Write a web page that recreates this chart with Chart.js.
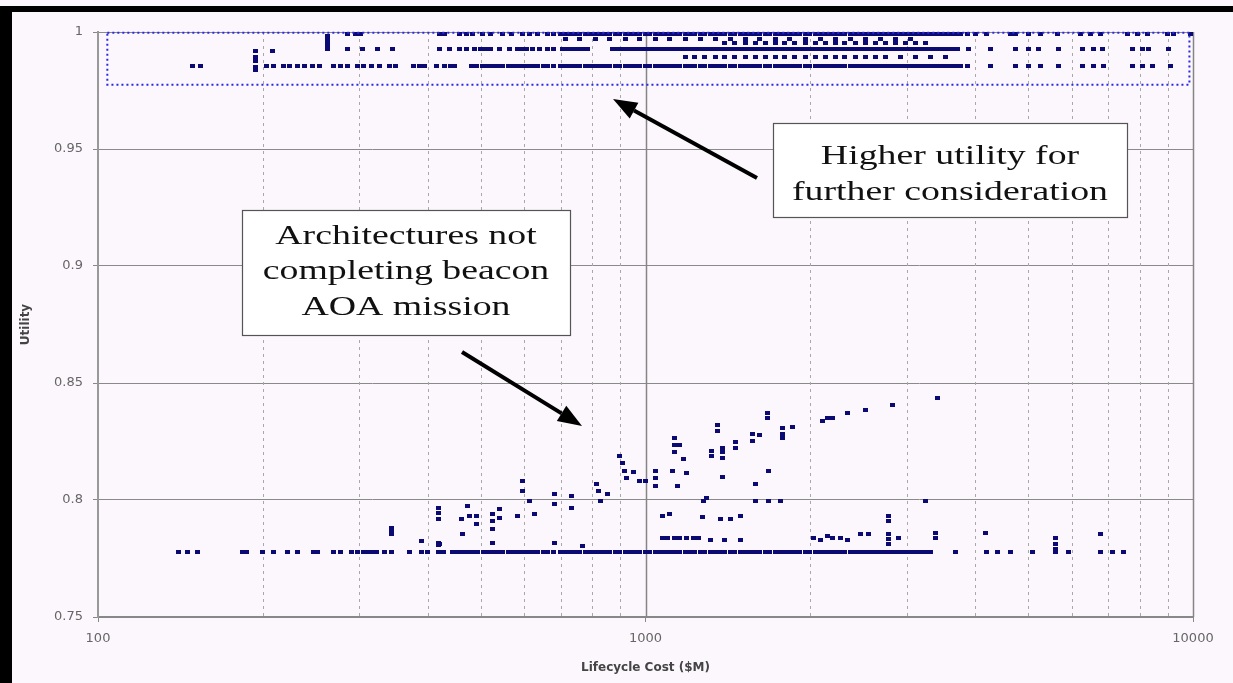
<!DOCTYPE html>
<html><head><meta charset="utf-8">
<script src="https://cdn.jsdelivr.net/npm/chart.js"></script>
<style>html,body{margin:0;padding:0;background:#fcf7fc;overflow:hidden}</style>
</head><body>
<canvas id="c" width="1233" height="683"></canvas>
<script>
// ---------- axis ticks ----------
const xGridValues = [100,200,300,400,500,600,700,800,900,1000,2000,3000,4000,5000,6000,7000,8000,9000,10000];
const xTickLabels = ['100','1000','10000'];
const yTicks = [0.75,0.8,0.85,0.9,0.95,1];

// ---------- top cluster (utility ~0.98-1.0), cost in $M ----------
const topA_util = 0.9991;
const topA_cost = [285,295,301,421,430,458,471,484,503,520,549,570,597,615,636,662,678,698,713,728,744,759,776,792,809,826,844,861,880,898,918,937,957,977,998,1019,1041,1062,1085,1108,1132,1156,1181,1206,1231,1258,1284,1312,1340,1368,1397,1427,1457,1488,1520,1552,1585,1618,1653,1688,1724,1761,1798,1836,1875,1915,1956,1997,2040,2084,2128,2173,2219,2266,2314,2364,2414,2466,2518,2572,2626,2682,2739,2797,2857,2917,2979,3043,3107,3173,3241,3310,3380,3452,3525,3600,3677,3755,3870,4000,4198,4636,4735,5000,5258,5650,6222,6490,6768,7580,7905,8246,8970,9200,9880];
const topB_util = 0.9972;
const topB_cost = [713,759,809,861,918,977,1041,1108,1181,1258,1340,1427,1520,1618,1724,1836,1956,2084,2219,2364,2518,2682,2857,3043];
const topC_util = 0.9955;
const topC_cost = [1397,1457,1520,1585,1653,1724,1798,1875,1956,2040,2128,2219,2314,2414,2518,2626,2739,2857,2979,3107,3241];
const topD_util = 0.9926;
const topD_cost = [262,285,304,324,345,420,438,458,471,488,499,510,520,542,565,583,597,607,623,640,662,678,705,720,736,751,767,784,870,889,908,927,947,967,987,1008,1030,1051,1073,1096,1120,1144,1168,1193,1218,1244,1271,1298,1326,1354,1382,1412,1442,1472,1504,1536,1568,1601,1635,1670,1706,1742,1779,1817,1855,1895,1935,1976,2018,2062,2106,2150,2196,2242,2290,2339,2389,2440,2492,2545,2599,2654,2710,2768,2827,2887,2948,3011,3075,3140,3207,3275,3345,3416,3488,3562,3638,3716,3887,4260,4735,5000,5214,5674,6275,6573,6826,7740,8074,8281,9008];
const topE_util = 0.9893;
const topE_cost = [1181,1231,1284,1340,1397,1457,1520,1585,1653,1724,1798,1875,1956,2040,2128,2219,2314,2414,2518,2626,2739,2917,3107,3310,3525];
const topG_util = 0.9855;
const topG_cost = [149,154,203,209,218,224,231,238,246,254,269,277,285,298,305,316,327,341,349,377,387,395,416,430,440,448,481,492,503,514,525,536,549,561,573,585,597,610,623,636,650,663,678,698,713,728,744,759,776,792,809,826,844,861,880,898,918,937,957,977,998,1019,1041,1062,1085,1108,1132,1156,1181,1206,1231,1258,1284,1312,1340,1368,1397,1427,1457,1488,1520,1552,1585,1618,1653,1688,1724,1761,1798,1836,1875,1915,1956,1997,2040,2084,2128,2173,2219,2266,2314,2364,2414,2466,2518,2572,2626,2682,2739,2797,2857,2917,2979,3043,3107,3173,3241,3310,3380,3452,3525,3600,3677,3755,3870,4260,4735,5000,5258,5674,6275,6573,6855,7740,8074,8423,9087];
const topStacks = [[194,0.9917],[194,0.9895],[194,0.9874],[194,0.9852],[194,0.9839],[208,0.9917],
  [262,0.9981],[262,0.9968],[262,0.9955],[262,0.9942],[285,0.9990]];

// ---------- lower cluster (architectures not completing beacon AOA mission) ----------
const base_util = 0.7778;
const base_cost = [140,146,152,184,187,200,209,222,231,247,252,269,277,291,298,305,309,314,318,323,334,344,371,390,400,418,428,444,454,464,474,484,494,505,516,527,538,549,561,573,585,597,610,623,636,650,663,678,698,713,728,744,759,776,792,809,826,844,861,880,898,918,937,957,977,998,1019,1041,1062,1085,1108,1132,1156,1181,1206,1231,1258,1284,1312,1340,1368,1397,1427,1457,1488,1520,1552,1585,1618,1653,1688,1724,1761,1798,1836,1875,1915,1956,1997,2040,2084,2128,2173,2219,2266,2314,2364,2414,2466,2518,2572,2626,2682,2739,2797,2857,2917,2979,3043,3107,3173,3241,3310,3677,4198,4400,4636,5084,5603,5917,6768,7120,7455];
const lowScatter = [[1075,0.7838],[1097,0.7838],[1132,0.7838],[1156,0.7838],[1190,0.7838],[1222,0.7838],[1251,0.7838],[1312,0.7830],[1397,0.7830],[1488,0.7830],[2023,0.7838],[2084,0.7830],[2146,0.7847],[2200,0.7838],[2266,0.7838],[2334,0.7830],[2466,0.7856],[2550,0.7856],[2775,0.7856],[2775,0.7835],[2775,0.7813],[2893,0.7838],[3380,0.7860],[3380,0.7838],[4172,0.7860],[5603,0.7838],[5603,0.7813],[5603,0.7791],[6768,0.7856],
  [418,0.7818],[418,0.7808],[390,0.7826],[421,0.7813],[344,0.7881],[344,0.7868],[344,0.7856],[418,0.7967],[418,0.7946],[418,0.7920],[464,0.7856],[462,0.7920],[474,0.7976],[477,0.7933],[491,0.7933],[491,0.7899],[525,0.7941],[525,0.7911],[525,0.7877],[525,0.7817],[542,0.7963],[542,0.7924],[583,0.7933],[628,0.7941],[615,0.7997],[597,0.8083],[597,0.8040],[683,0.7817],[683,0.8027],[683,0.7984],[732,0.8019],[732,0.7967],[766,0.7804],[815,0.8070],[851,0.8027]];
const risingBand = [[1041,0.8126],[1041,0.8096],[1041,0.8061],[998,0.8083],[1120,0.8126],[1132,0.8267],[1132,0.8233],[1132,0.8203],[1156,0.8233],[1172,0.8177],[1190,0.8117],[1146,0.8061],[1075,0.7933],[1108,0.7941],[1270,0.7929],[1368,0.7920],[1427,0.7920],[1488,0.7933],[1277,0.7997],[1292,0.8010],[1318,0.8211],[1318,0.8190],[1352,0.8319],[1352,0.8297],[1380,0.8224],[1380,0.8203],[1380,0.8181],[1380,0.8100],[1460,0.8246],[1460,0.8224],[1568,0.8284],[1568,0.8254],[1618,0.8276],[1585,0.8070],[1585,0.7997],[1675,0.7997],[1768,0.7997],[1668,0.8370],[1668,0.8349],[1675,0.8126],[1780,0.8306],[1780,0.8284],[1780,0.8267],[1856,0.8310],[2106,0.8336],[2150,0.8349],[2200,0.8349],[2339,0.8370],[2518,0.8383],[2827,0.8404],[3416,0.8438],[3240,0.7997],[2775,0.7933],[2775,0.7911],
  [820,0.8040],[826,0.7997],[898,0.8190],[907,0.8160],[916,0.8126],[925,0.8092],[951,0.8118],[977,0.8083]];

// ---------- highlight region ----------
const highlightBox = {xMin:104, xMax:9850, yMin:0.9775, yMax:0.9997};

// ---------- build dataset ----------
const pts = [];
function addRow(costs, u){ costs.forEach(c => pts.push({x:c, y:u})); }
function addPairs(pairs){ pairs.forEach(p => pts.push({x:p[0], y:p[1]})); }
addRow(topA_cost, topA_util); addRow(topB_cost, topB_util); addRow(topC_cost, topC_util);
addRow(topD_cost, topD_util); addRow(topE_cost, topE_util); addRow(topG_cost, topG_util);
addPairs(topStacks);
addRow(base_cost, base_util); addPairs(lowScatter); addPairs(risingBand);

// wide marker (the original markers look horizontally stretched)
const marker = document.createElement('canvas');
marker.width = 5; marker.height = 4;
(function(){ const m = marker.getContext('2d'); m.fillStyle = '#0a0a72'; m.fillRect(0,0,5,4); })();

const bgPlugin = {
  id:'bg',
  beforeDraw(c){
    const ctx = c.ctx; ctx.save();
    ctx.fillStyle = '#fcf7fc'; ctx.fillRect(0,0,c.width,c.height);
    ctx.fillStyle = '#000'; ctx.fillRect(0,6,c.width,6); ctx.fillRect(0,6,12,c.height-6);
    ctx.restore();
  },
  beforeDatasetsDraw(c){
    const ctx = c.ctx, xs = c.scales.x, a = c.chartArea;
    ctx.save();
    xGridValues.forEach(v => {
      if (v === 100) return;
      const px = Math.round(xs.getPixelForValue(v)) + 0.5;
      const major = (v === 1000 || v === 10000);
      ctx.beginPath();
      ctx.strokeStyle = major ? '#858585' : '#a8a8a8';
      ctx.lineWidth = major ? 1.5 : 1;
      ctx.setLineDash(major ? [] : [3,4]);
      ctx.moveTo(px, a.top); ctx.lineTo(px, a.bottom); ctx.stroke();
    });
    ctx.restore();
  }
};

function sText(ctx, t, cx, cy, sx){ ctx.save(); ctx.translate(cx,cy); ctx.scale(sx,1); ctx.fillText(t,0,0); ctx.restore(); }
function arrow(ctx, x1,y1,x2,y2){
  const ang = Math.atan2(y2-y1, x2-x1), hl = 24, hw = 9;
  const bx = x2 - hl*Math.cos(ang), by = y2 - hl*Math.sin(ang);
  ctx.beginPath(); ctx.lineWidth = 4; ctx.strokeStyle = '#000';
  ctx.moveTo(x1,y1); ctx.lineTo(bx,by); ctx.stroke();
  ctx.beginPath(); ctx.fillStyle = '#000';
  ctx.moveTo(x2,y2);
  ctx.lineTo(bx + hw*Math.sin(ang), by - hw*Math.cos(ang));
  ctx.lineTo(bx - hw*Math.sin(ang), by + hw*Math.cos(ang));
  ctx.closePath(); ctx.fill();
}

const notePlugin = {
  id:'notes',
  afterDatasetsDraw(c){
    const ctx = c.ctx, xs = c.scales.x, ys = c.scales.y;
    ctx.save();
    const l = xs.getPixelForValue(highlightBox.xMin), r = xs.getPixelForValue(highlightBox.xMax);
    const t = ys.getPixelForValue(highlightBox.yMax), b = ys.getPixelForValue(highlightBox.yMin);
    ctx.strokeStyle = '#2a2ae6'; ctx.lineWidth = 2; ctx.setLineDash([2,3]);
    ctx.strokeRect(l, t, r-l, b-t);
    ctx.setLineDash([]);
    ctx.fillStyle = '#ffffff'; ctx.strokeStyle = '#555'; ctx.lineWidth = 1.2;
    ctx.fillRect(773.5,123.5,354,94); ctx.strokeRect(773.5,123.5,354,94);
    ctx.fillRect(242.5,210.5,328,125); ctx.strokeRect(242.5,210.5,328,125);
    ctx.fillStyle = '#111'; ctx.textAlign = 'center'; ctx.textBaseline = 'middle';
    ctx.font = '28px "Liberation Serif", "Times New Roman", serif';
    sText(ctx, 'Higher utility for', 950, 157, 1.35);
    sText(ctx, 'further consideration', 950, 193, 1.35);
    sText(ctx, 'Architectures not', 406, 237, 1.35);
    sText(ctx, 'completing beacon', 406, 272, 1.35);
    sText(ctx, 'AOA mission', 406, 308, 1.35);
    arrow(ctx, 757,178, 613,99);
    arrow(ctx, 462,352, 582,426);
    ctx.restore();
  }
};

new Chart(document.getElementById('c'), {
  type:'scatter',
  data:{ datasets:[{ data: pts, pointStyle: marker, pointRadius:3, pointHoverRadius:3, backgroundColor:'#0a0a72', borderWidth:0 }] },
  options:{
    responsive:false, animation:false, devicePixelRatio:1,
    layout:{ padding:{ left:0, right:40, top:32, bottom:0 } },
    plugins:{ legend:{display:false}, tooltip:{enabled:false} },
    scales:{
      x:{
        type:'logarithmic', min:100, max:10000,
        afterBuildTicks(s){ s.ticks = xGridValues.map(v => ({value:v})); },
        afterFit(s){ s.height = 66; },
        ticks:{ autoSkip:false, maxRotation:0, padding:9, color:'#666',
          font:{family:'"DejaVu Sans", sans-serif', size:13},
          callback:(v) => xTickLabels.includes(String(v)) ? String(v) : '' },
        grid:{ drawOnChartArea:false, drawTicks:true, tickLength:5,
          tickColor:(ctx) => (ctx.tick && xTickLabels.includes(String(ctx.tick.value))) ? '#888' : 'rgba(0,0,0,0)' },
        border:{ display:true, color:'#888', width:2 },
        title:{ display:true, text:'Lifecycle Cost ($M)', color:'#444', padding:{top:0,bottom:8},
          font:{family:'"DejaVu Sans", sans-serif', size:12, weight:'bold'} }
      },
      y:{
        min:0.75, max:1,
        afterBuildTicks(s){ s.ticks = yTicks.map(v => ({value:v})); },
        afterFit(s){ s.width = 98; },
        ticks:{ padding:10, color:'#666', font:{family:'"DejaVu Sans", sans-serif', size:13},
          callback:(v) => String(Number(v.toFixed(2))) },
        grid:{ color:'#8a8a8a', lineWidth:1, tickLength:5, tickColor:'#888' },
        border:{ display:true, color:'#999', width:2 },
        title:{ display:true, text:'Utility', color:'#444', padding:{top:19,bottom:0},
          font:{family:'"DejaVu Sans", sans-serif', size:12, weight:'bold'} }
      }
    }
  },
  plugins:[bgPlugin, notePlugin]
});
</script>
</body></html>
